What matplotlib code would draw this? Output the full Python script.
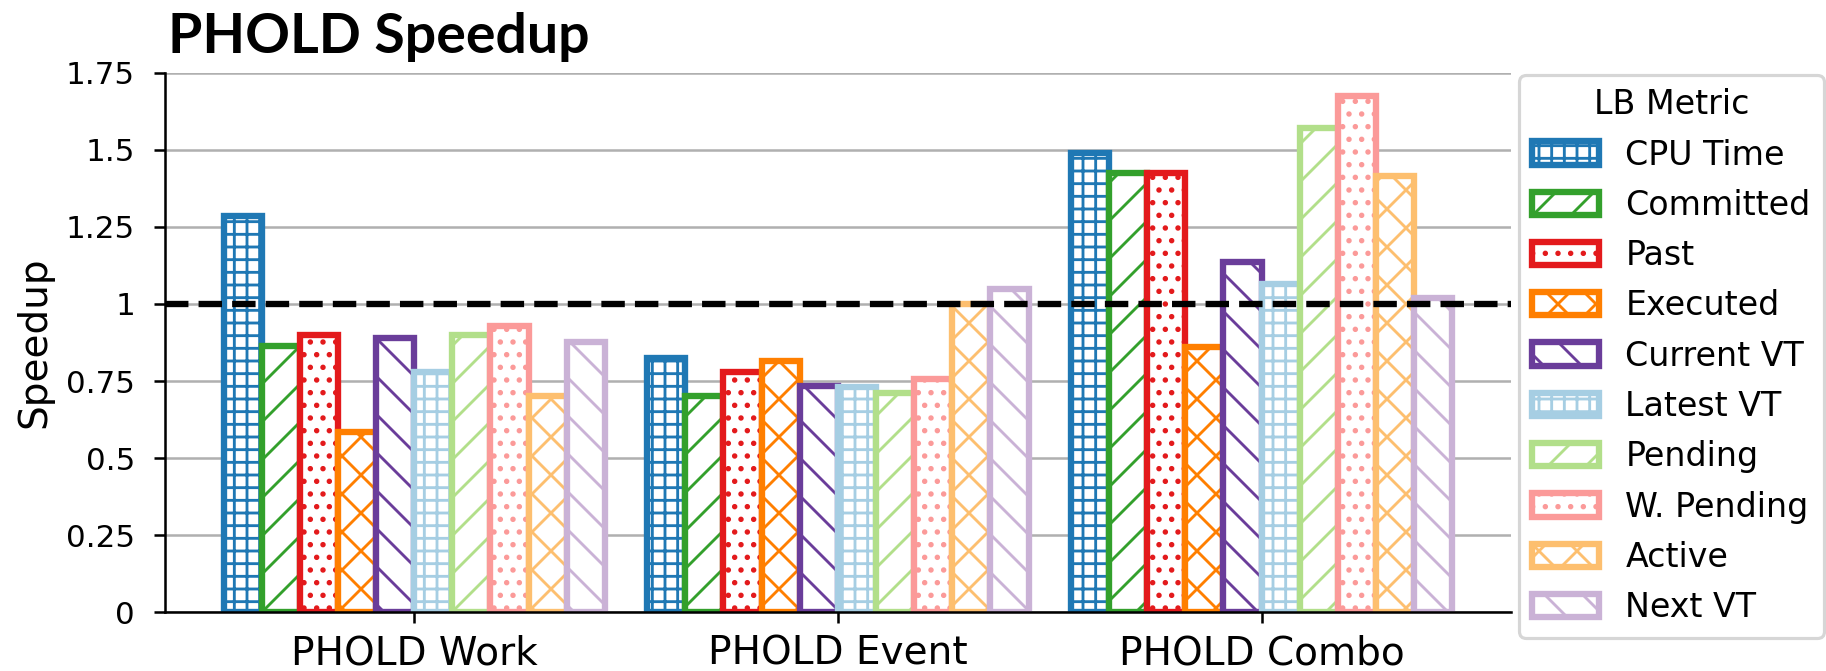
import numpy as np
import matplotlib.pyplot as plt

# speedup per load-balancing metric, one list per metric (Work, Event, Combo)
groups = ['PHOLD Work', 'PHOLD Event', 'PHOLD Combo']
metrics = ['CPU Time', 'Committed', 'Past', 'Executed', 'Current VT',
           'Latest VT', 'Pending', 'W. Pending', 'Active', 'Next VT']
cpu_time = [1.285, 0.825, 1.49]
committed = [0.865, 0.70, 1.425]
past = [0.90, 0.78, 1.425]
executed = [0.585, 0.815, 0.86]
current_vt = [0.89, 0.735, 1.135]
latest_vt = [0.78, 0.73, 1.065]
pending = [0.90, 0.71, 1.57]
w_pending = [0.93, 0.755, 1.675]
active = [0.70, 1.00, 1.415]
next_vt = [0.875, 1.05, 1.02]
series = [cpu_time, committed, past, executed, current_vt,
          latest_vt, pending, w_pending, active, next_vt]

yticks = [0, 0.25, 0.5, 0.75, 1, 1.25, 1.5, 1.75]
ytick_labels = ['0', '0.25', '0.5', '0.75', '1', '1.25', '1.5', '1.75']

colors = ['#1f78b4', '#33a02c', '#e31a1c', '#ff7f00', '#6a3d9a',
          '#a6cee3', '#b2df8a', '#fb9a99', '#fdbf6f', '#cab2d6']
hatches = ['+++', '//', '...', 'xx', '\\\\', '+++', '//', '...', 'xx', '\\\\']

DPI = 228
plt.rcParams['hatch.linewidth'] = 0.9

fig = plt.figure(figsize=(1826 / DPI, 671 / DPI), dpi=DPI)
ax = fig.add_axes([0.0904, 0.0875, 0.8273 - 0.0904, 0.8917 - 0.0875])

x = np.arange(len(groups))
width = 0.09
for i, (vals, name) in enumerate(zip(series, metrics)):
    ax.bar(x + (i - 4.5) * width, vals, width=width, facecolor='white',
           edgecolor=colors[i], hatch=hatches[i], linewidth=2, label=name)

ax.axhline(1, color='black', linestyle='--', linewidth=2, zorder=5)

ax.set_xlim(-0.588, 2.588)
ax.set_ylim(0, 1.75)
ax.set_xticks(x)
ax.set_xticklabels(groups, fontsize=12.3)
ax.set_yticks(yticks)
ax.set_yticklabels(ytick_labels, fontsize=9.8)
ax.tick_params(axis='y', pad=6)
ax.yaxis.grid(True, color='#b0b0b0', linewidth=0.8)
ax.set_axisbelow(True)
for s in ['top', 'right']:
    ax.spines[s].set_visible(False)

ax.set_ylabel('Speedup', fontsize=12.3)
ax.yaxis.set_label_coords(-0.083, 0.5)

fig.text(0.092, 1 - 53 / 671, 'PHOLD Speedup', fontsize=17.5,
         fontweight='bold', family='Lato', va='baseline', ha='left')

ax.legend(title='LB Metric', loc='upper left',
          bbox_to_anchor=(1519 / 1826, 1 - 75 / 671),
          bbox_transform=fig.transFigure, borderaxespad=0,
          fontsize=10.5, title_fontsize=10.5, labelspacing=0.52)

fig.savefig('out.png', dpi=DPI)
